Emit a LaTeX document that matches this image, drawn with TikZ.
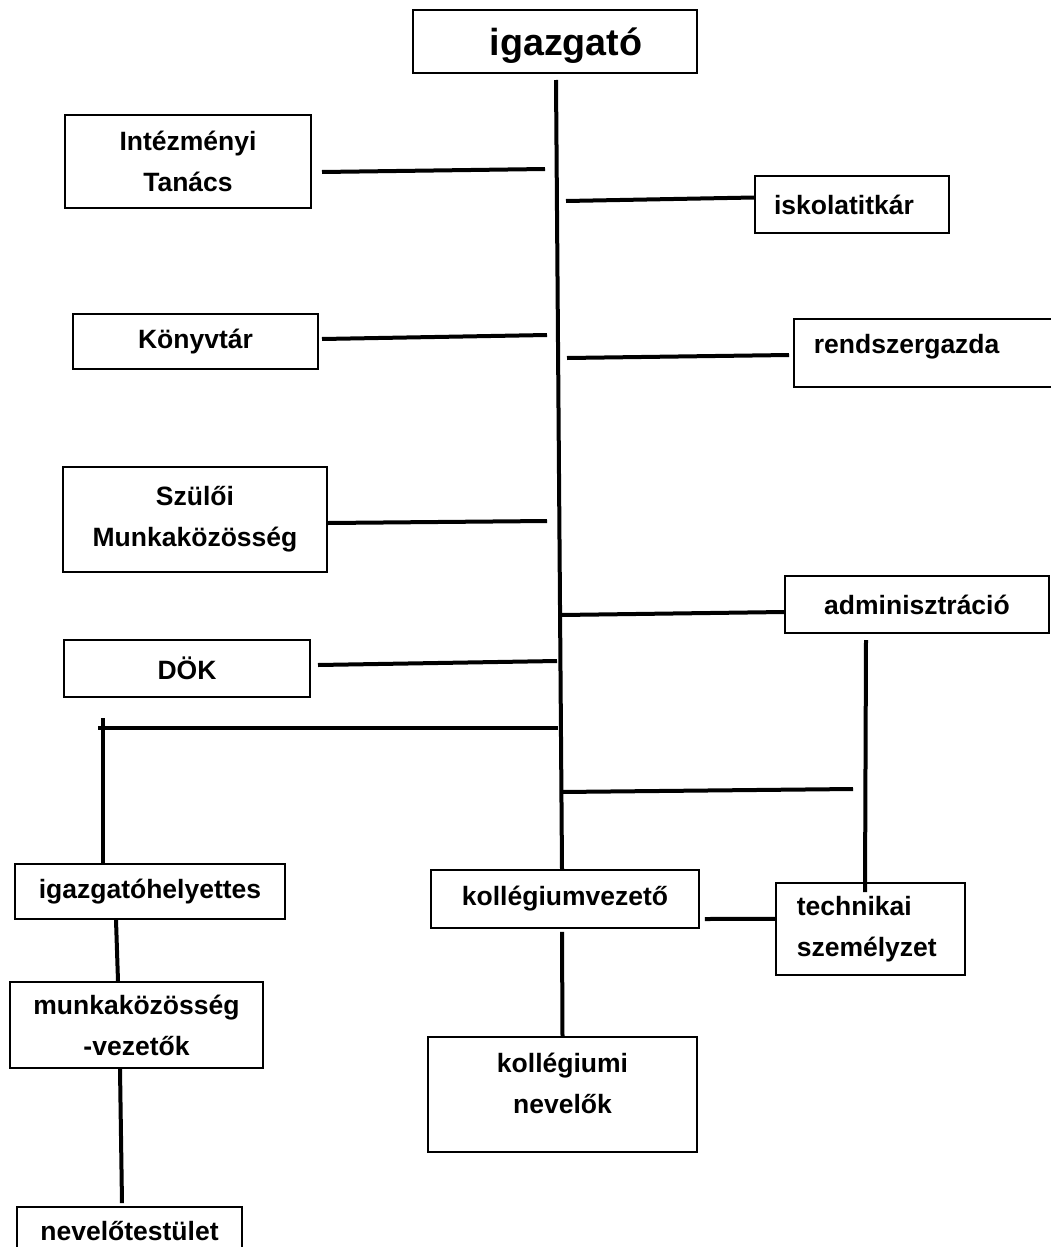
\documentclass[tikz,border=0pt]{standalone}
\usepackage{fontspec}
\setmainfont{Liberation Sans}
\usetikzlibrary{positioning}
\newcommand{\lbl}{\fontsize{26.5pt}{41pt}\selectfont\bfseries}
\newcommand{\lblbig}{\fontsize{37.7pt}{45pt}\selectfont\bfseries}
\tikzset{
  unit/.style={draw,line width=1.7pt,inner sep=0pt,font=\lbl,align=center},
  link/.style={line width=4pt},
}

\begin{document}
\begin{tikzpicture}[x=1pt,y=-1pt]
\useasboundingbox (0,0) rectangle (1051,1247);
\clip (0,0) rectangle (1051,1247);

% ============ head and spine ============
\node[unit,font=\lblbig,minimum width=284pt,minimum height=63pt,text depth=0pt] (head) at (555,41.5) {\hspace*{22pt}igazgató};
\node[unit,minimum width=268pt,minimum height=58pt] (college) at (565,899) {kollégiumvezető};
\coordinate (spinetop) at (556,80);
\draw[link] (spinetop) -- ([xshift=-3pt]college.north);

% ============ left column ============
\node[unit,minimum width=246pt,minimum height=93pt] (council) at (188,161.5) {Intézményi\\Tanács};
\node[unit,minimum width=245pt,minimum height=55pt] (library) at (195.5,341.5) {Könyvtár};
\node[unit,minimum width=264pt,minimum height=105pt] (parents) at (195,519.5) {Szülői\\Munkaközösség};
\node[unit,minimum width=246pt,minimum height=57pt] (dok) at (187,668.5) {DÖK};

\coordinate (councilL) at (322,172);
\coordinate (councilR) at (545,169);
\coordinate (libraryL) at (322,339);
\coordinate (libraryR) at (547,335);
\coordinate (parentsR) at (547,521);
\coordinate (dokL) at (318,665);
\coordinate (dokR) at (557,661);
\draw[link] (councilL) -- (councilR);
\draw[link] (libraryL) -- (libraryR);
\draw[link] ([yshift=-3.5pt]parents.east) -- (parentsR);
\draw[link] (dokL) -- (dokR);

% ============ right column ============
\node[unit,minimum width=194pt,minimum height=57pt] (secretary) at (852,204.5) {iskolatitkár\hspace*{16pt}};
\node[unit,anchor=north west,text width=240pt,inner xsep=20pt,align=left,text height=35pt,text depth=33pt] (sysadmin) at (793,318) {rendszergazda};
\node[unit,minimum width=264pt,minimum height=57pt] (admin) at (917,604.5) {adminisztráció};
\node[unit,anchor=north west,minimum width=189pt,minimum height=92pt,text width=147pt,inner xsep=21pt,align=left] (technical) at (775,882) {technikai\\személyzet};

\coordinate (secretaryL) at (566,201);
\coordinate (sysadminL) at (567,358);
\coordinate (sysadminR) at (789,355);
\coordinate (adminL) at (561,615);
\coordinate (admintop) at (866,640);
\coordinate (adminbot) at (865,892);
\coordinate (lowL) at (561,792);
\coordinate (lowR) at (853,789);
\draw[link] (secretaryL) -- ([yshift=7pt]secretary.west);
\draw[link] (sysadminL) -- (sysadminR);
\draw[link] (adminL) -- ([yshift=-7.5pt]admin.west);
\draw[link] (admintop) -- (adminbot);
\draw[link] (lowL) -- (lowR);

% ============ deputy branch ============
\node[unit,minimum width=270pt,minimum height=55pt] (deputy) at (150,891.5) {igazgatóhelyettes};
\node[unit,minimum width=253pt,minimum height=86pt] (heads) at (136.5,1025) {munkaközösség\\-vezetők};
\node[unit,minimum width=225pt,minimum height=48pt] (staff) at (129.5,1231) {nevelőtestület};

\coordinate (deputyL) at (98,728);
\coordinate (deputyR) at (558,728);
\coordinate (deputytop) at (103,718);
\draw[link] (deputyL) -- (deputyR);
\draw[link] (deputytop) -- ([xshift=-47pt]deputy.north);
\draw[link] ([xshift=-34pt]deputy.south) -- ([xshift=-18.5pt]heads.north);
\draw[link] ([xshift=-16.5pt]heads.south) -- ([xshift=-7.5pt,yshift=3pt]staff.north);

% ============ college branch ============
\node[unit,minimum width=269pt,minimum height=115pt,text depth=22pt] (teachers) at (562.5,1094.5) {kollégiumi\\nevelők};
\draw[link] ([xshift=-3pt,yshift=-3pt]college.south) -- (teachers.north);
\draw[link] ([xshift=5pt,yshift=-20pt]college.east) -- ([yshift=10pt]technical.west);

\end{tikzpicture}
\end{document}
